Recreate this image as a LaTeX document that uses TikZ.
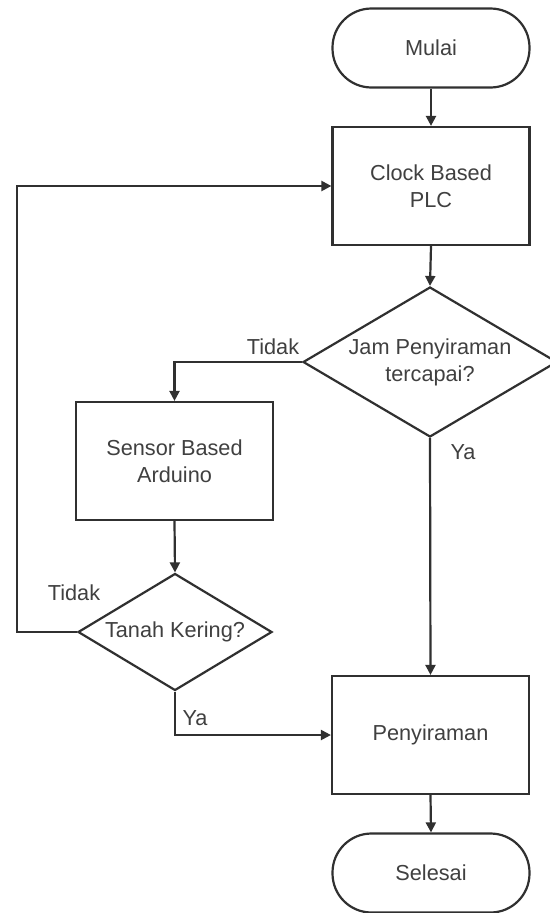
\documentclass[tikz,border=0pt]{standalone}
\usepackage{fontspec}
\setmainfont{Liberation Sans}
\usetikzlibrary{shapes.geometric,arrows.meta}
\definecolor{linec}{HTML}{303030}
\definecolor{textc}{HTML}{404040}
\begin{document}
\begin{tikzpicture}[x=1pt,y=-1pt,
  every node/.style={font=\fontsize{21.7}{27}\selectfont, text=textc},
  boxst/.style={draw=linec, line width=2.2pt, rectangle, minimum width=197pt, minimum height=118pt, inner sep=0pt},
  termst/.style={draw=linec, line width=2.2pt, rectangle, rounded corners=39pt, minimum width=197pt, minimum height=79pt, inner sep=0pt},
  decst/.style={draw=linec, line width=2.2pt, diamond, inner sep=0pt},
  txt/.style={align=center, inner sep=0pt},
  lbl/.style={inner sep=0pt},
  arr/.style={draw=linec, line width=2.2pt, -{Triangle[length=10pt,width=10pt]}}]
\useasboundingbox (0,0) rectangle (549,913);
\fill[white] (0,0) rectangle (549,913);
\node[termst] (mulai) at (431,48) {Mulai};
\node[boxst] (clock) at (431,186) {};
\node[txt] (clockt) at (clock) {Clock Based\\PLC};
\node[decst, minimum width=254pt, minimum height=150pt] (jam) at (430,362) {};
\node[txt] (jamt) at (jam) {Jam Penyiraman\\tercapai?};
\node[boxst] (sensor) at (174.5,461) {};
\node[txt] (sensort) at (sensor) {Sensor Based\\Arduino};
\node[decst, minimum width=194pt, minimum height=117pt] (tanah) at (175,632) {};
\node[txt] (tanaht) at (tanah) {Tanah Kering?};
\node[boxst] (peny) at (430.5,735) {};
\node[txt] (penyt) at (peny) {Penyiraman};
\node[termst] (selesai) at (431,873) {Selesai};
\node[lbl] (tidak1) at (273,347) {Tidak};
\node[lbl] (ya1) at (463,452) {Ya};
\node[lbl] (tidak2) at (74,593) {Tidak};
\node[lbl] (ya2) at (195,718) {Ya};
\coordinate (loopc) at (17,632);
\draw[arr] (mulai.south) -- (clock.north);
\draw[arr] (clock.south) -- (jam.north);
\draw[arr] (jam.west) -| (sensor.north);
\draw[arr] (sensor.south) -- (tanah.north);
\draw[arr] (tanah.west) -- (loopc) |- (clock.west);
\draw[arr] (tanah.south) |- (peny.west);
\draw[arr] (jam.south) -- (peny.north);
\draw[arr] (peny.south) -- (selesai.north);
\end{tikzpicture}
\end{document}
